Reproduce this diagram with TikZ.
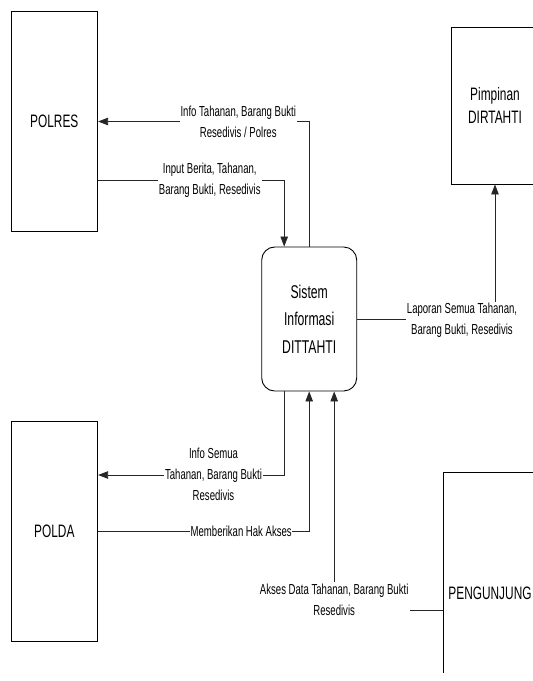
\documentclass[tikz,border=0pt]{standalone}
\usepackage{fontspec}
\setmainfont{Liberation Sans}[FakeStretch=0.66]
\newfontfamily\serifa{Liberation Serif}
\usetikzlibrary{arrows.meta}
\tikzset{
  ent/.style={draw=black, line width=0.9pt, rectangle, inner sep=0pt, font=\fontsize{18}{23}\selectfont, align=center},
  proc/.style={draw=black, line width=0.9pt, rectangle, rounded corners=13pt, inner sep=0pt, font=\fontsize{18.5}{27.5}\selectfont, align=center},
  flow/.style={draw=black!85, line width=0.8pt},
  arr/.style={flow, -{Triangle[length=10pt,width=7.5pt]}},
  lbl/.style={fill=white, inner sep=1pt, align=center, font=\fontsize{14.5}{21}\selectfont},
}
\begin{document}
\begin{tikzpicture}[x=1pt,y=-1pt]
\useasboundingbox (0,0) rectangle (533,681);
% clipped heading text
\node[anchor=base west, inner sep=0pt, font=\serifa\fontsize{22}{26}\selectfont] (head) at (43,-5.5) {pada gambar berikut ini.};

% entities
\node[ent, minimum width=86.7pt, minimum height=220pt] (polres) at (54.3,121.5) {POLRES};
\node[ent, minimum width=86.7pt, minimum height=220pt] (polda) at (54.3,531) {POLDA};
\node[ent, minimum width=86.7pt, minimum height=157pt] (pimp) at (495,105.5) {Pimpinan\\DIRTAHTI};
\begin{scope}
  \clip (0,0) rectangle (533,672);
  \node[ent, minimum width=94pt, minimum height=242pt] (peng) at (490,593) {PENGUNJUNG};
\end{scope}

% process
\node[proc, minimum width=95pt, minimum height=144pt] (sys) at (309.2,319) {Sistem\\Informasi\\DITTAHTI};

% flows
\draw[arr] (sys.north) |- (polres.east)
  node[lbl, pos=0.668] (l1) {Info Tahanan, Barang Bukti\\Resedivis / Polres};
\draw[arr] ([yshift=-58.5pt]polres.east) -| ([xshift=-25pt]sys.north)
  node[lbl, pos=0.3] (l2) {Input Berita, Tahanan,\\Barang Bukti, Resedivis};
\draw[arr] (sys.east) -| (pimp.south)
  node[lbl, pos=0.5, xshift=-33pt, yshift=-1pt] (l3) {Laporan Semua Tahanan,\\Barang Bukti, Resedivis};
\draw[arr] ([xshift=-25pt]sys.south) |- ([yshift=56pt]polda.east)
  node[lbl, pos=0.69, yshift=1pt] (l4) {Info Semua\\Tahanan, Barang Bukti\\Resedivis};
\draw[arr] (polda.east) -| (sys.south)
  node[lbl, pos=0.339, inner sep=0.5pt] (l5) {Memberikan Hak Akses};
\draw[arr] ([yshift=-17pt]peng.west) -| ([xshift=25pt]sys.south)
  node[lbl, pos=0.5, yshift=10pt, inner sep=2pt] (l6) {Akses Data Tahanan, Barang Bukti\\Resedivis};
\end{tikzpicture}
\end{document}
